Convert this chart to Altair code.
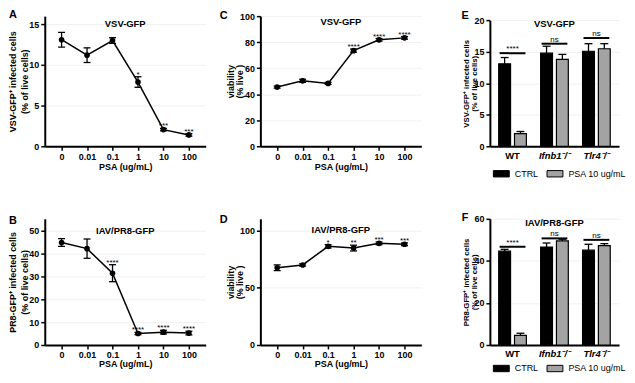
import altair as alt
import pandas as pd

FONT = "Liberation Sans"

# ---------------- data ----------------
doses = ["0", "0.01", "0.1", "1", "10", "100"]

a_mean = [13.1, 11.2, 13.0, 7.9, 2.05, 1.4]
a_err = [0.9, 0.9, 0.35, 0.65, 0.15, 0.15]
a_sig = ["", "", "", "*", "***", "***"]

b_mean = [44.7, 42.0, 31.3, 5.0, 5.6, 5.2]
b_err = [1.7, 4.2, 3.7, 0.5, 0.8, 0.8]
b_sig = ["", "", "****", "****", "****", "****"]

c_mean = [45.5, 50.3, 48.3, 73.5, 81.8, 83.3]
c_err = [0.8, 1.2, 0.8, 1.2, 1.0, 1.0]
c_sig = ["", "", "", "****", "****", "****"]

d_mean = [67.3, 69.8, 86.0, 84.5, 88.6, 87.8]
d_err = [2.5, 1.0, 1.5, 2.5, 1.2, 1.2]
d_sig = ["", "", "*", "**", "***", "***"]

groups = ["WT", "Ifnb1\u207b/\u207b", "Tlr4\u207b/\u207b"]
treatments = ["CTRL", "PSA 10 ug/mL"]

e_ctrl = [13.1, 14.8, 15.1]
e_ctrl_err = [1.0, 1.1, 1.2]
e_psa = [2.0, 13.8, 15.5]
e_psa_err = [0.35, 0.8, 0.8]
e_bracket = [14.8, 16.3, 17.2]
e_sig = ["****", "ns", "ns"]

f_ctrl = [44.6, 46.6, 45.1]
f_ctrl_err = [0.9, 1.9, 2.8]
f_psa = [4.6, 49.5, 47.3]
f_psa_err = [1.0, 0.8, 0.9]
f_bracket = [46.7, 50.7, 50.0]
f_sig = ["****", "ns", "ns"]


def label_layer(text, x, y, size, weight="bold"):
    return alt.Chart(pd.DataFrame({"t": [text]})).mark_text(
        font=FONT, fontSize=size, fontWeight=weight, color="black"
    ).encode(x=alt.value(x), y=alt.value(y), text="t:N")


def line_panel(mean, err, sig, domain, ticks, ytitle, title, letter,
               width, height, title_y, letter_xy, title_pad, title_lh, xt_pad):
    df = pd.DataFrame({
        "dose": doses,
        "mean": mean,
        "lo": [m - e for m, e in zip(mean, err)],
        "hi": [m + e for m, e in zip(mean, err)],
        "sig": sig,
    })
    xenc = alt.X("dose:O", sort=doses,
                 scale=alt.Scale(type="point", padding=0.66),
                 axis=alt.Axis(title="PSA (ug/mL)", labelAngle=0,
                               labelPadding=2, titlePadding=xt_pad))
    yscale = alt.Scale(domain=domain, nice=False, zero=False)
    yaxis = alt.Axis(values=ticks, title=ytitle, grid=True,
                     gridColor="#f1f1f1", titlePadding=title_pad,
                     titleLineHeight=title_lh)

    def Y(f):
        return alt.Y(f"{f}:Q", scale=yscale, axis=yaxis)

    base = alt.Chart(df)
    line = base.mark_line(color="black", strokeWidth=1.5).encode(x=xenc, y=Y("mean"))
    ebar = base.mark_rule(color="black", strokeWidth=1.3).encode(x=xenc, y=Y("lo"), y2="hi:Q")
    cap_hi = base.mark_tick(color="black", orient="horizontal", size=7,
                            thickness=1.3, opacity=1).encode(x=xenc, y=Y("hi"))
    cap_lo = base.mark_tick(color="black", orient="horizontal", size=7,
                            thickness=1.3, opacity=1).encode(x=xenc, y=Y("lo"))
    pts = base.mark_circle(color="black", size=32, opacity=1).encode(x=xenc, y=Y("mean"))
    stars = base.mark_text(font=FONT, fontSize=8, baseline="alphabetic", dy=0,
                           color="black").encode(x=xenc, y=Y("hi"), text="sig:N")
    ann = label_layer(title, width / 2, title_y, 9.5)
    let = label_layer(letter, letter_xy[0], letter_xy[1], 11)
    return alt.layer(line, ebar, cap_hi, cap_lo, pts, stars, ann, let).properties(
        width=width, height=height)


def bar_panel(ctrl, ctrl_err, psa, psa_err, brk, sig, domain, ticks, yrange,
              ytitle, title, letter, width, height, title_y, letter_xy, legend_y):
    vals = ctrl + psa
    errs = ctrl_err + psa_err
    df = pd.DataFrame({
        "group": groups * 2,
        "treat": [treatments[0]] * 3 + [treatments[1]] * 3,
        "val": vals,
        "top": [v + e for v, e in zip(vals, errs)],
    })
    sdf = pd.DataFrame({"group": groups, "brk": brk, "sig": sig})
    style_cond = {"condition": {"test": "datum.value === 'WT'", "value": "normal"},
                  "value": "italic"}
    xenc = alt.X("group:N", sort=groups,
                 scale=alt.Scale(paddingInner=0.34, paddingOuter=0.21),
                 axis=alt.Axis(title=None, ticks=False, labelAngle=0,
                               labelFontSize=9.5, labelPadding=4,
                               labelFontStyle=style_cond))
    xoff = alt.XOffset("treat:N", sort=treatments,
                       scale=alt.Scale(paddingInner=0.25))
    if yrange is not None:
        sc = alt.Scale(domain=domain, nice=False, zero=False, range=yrange)
    else:
        sc = alt.Scale(domain=domain, nice=False, zero=False)
    yaxis = alt.Axis(values=ticks, title=ytitle, grid=True,
                     gridColor="#f1f1f1", titlePadding=-5, titleFontSize=7.8,
                     titleLineHeight=8.5)

    def Y(f):
        return alt.Y(f"{f}:Q", scale=sc, axis=yaxis)

    color = alt.Color("treat:N", sort=treatments,
                      scale=alt.Scale(domain=treatments, range=["black", "#a3a3a3"]),
                      legend=alt.Legend(title=None, orient="none", legendX=3,
                                        legendY=legend_y, direction="horizontal",
                                        symbolType="M-1,-0.4H1V0.4H-1Z",
                                        symbolSize=256, symbolStrokeColor="black",
                                        symbolStrokeWidth=1, symbolOpacity=1,
                                        labelFont=FONT, labelFontSize=9,
                                        labelFontWeight="normal", labelColor="black",
                                        labelOffset=5, columnPadding=6, padding=0))
    base = alt.Chart(df)
    bars = base.mark_bar(stroke="black", strokeWidth=1.2, opacity=1).encode(
        x=xenc, xOffset=xoff, y=Y("val"), color=color)
    ebar = base.mark_rule(color="black", strokeWidth=1.3).encode(
        x=xenc, xOffset=xoff, y=Y("val"), y2="top:Q")
    cap = base.mark_tick(color="black", orient="horizontal", size=8,
                         thickness=1.3, opacity=1).encode(x=xenc, xOffset=xoff, y=Y("top"))
    sb = alt.Chart(sdf)
    bline = sb.mark_tick(color="black", orient="horizontal", size=26,
                         thickness=2, opacity=1).encode(x=xenc, y=Y("brk"))
    stars = sb.mark_text(font=FONT, fontSize=8, baseline="alphabetic", dy=-2,
                         color="black").encode(x=xenc, y=Y("brk"), text="sig:N")
    ann = label_layer(title, width / 2, title_y, 9.5)
    let = label_layer(letter, letter_xy[0], letter_xy[1], 11)
    return alt.layer(bars, ebar, cap, bline, stars, ann, let).properties(
        width=width, height=height)


def spacer(w, h):
    return alt.Chart(pd.DataFrame({"s": [0]})).mark_point(opacity=0).encode(
        x=alt.value(0), y=alt.value(0)).properties(width=w, height=h)


H1, H2 = 131, 127
W1, W2, W3 = 162, 162, 130
G1, G2 = 55, 69
ROW_GAP = 73

A = line_panel(a_mean, a_err, a_sig, [0, 16], [0, 5, 10, 15],
               ["VSV-GFP\u207a infected cells", "(% of live cells)"],
               "VSV-GFP", "A", W1, H1, 8, (-32, -1), -1, 12, 1)
B = line_panel(b_mean, b_err, b_sig, [0, 55], [0, 10, 20, 30, 40, 50],
               ["PR8-GFP\u207a infected cells", "(% of live cells)"],
               "IAV/PR8-GFP", "B", W1, H2, 12, (-32, 2), -1, 12, 0)
C = line_panel(c_mean, c_err, c_sig, [0, 100], [0, 20, 40, 60, 80, 100],
               ["viability", "(% live )"],
               "VSV-GFP", "C", W2, H1, 6, (-37, 0), -5, 9.5, 1)
D = line_panel(d_mean, d_err, d_sig, [0, 110], [0, 50, 100],
               ["viability", "(% live )"],
               "IAV/PR8-GFP", "D", W2, H2, 11, (-37, 1), -5, 9.5, 0)
E = bar_panel(e_ctrl, e_ctrl_err, e_psa, e_psa_err, e_bracket, e_sig,
              [0, 20], [0, 5, 10, 15, 20], [H1, 4.3],
              ["VSV-GFP\u207a infected cells", "(% of live cells)"],
              "VSV-GFP", "E", W3, H1, 8.3, (-25, 0), 150)
F = bar_panel(f_ctrl, f_ctrl_err, f_psa, f_psa_err, f_bracket, f_sig,
              [0, 60], [0, 20, 40, 60], None,
              ["PR8-GFP\u207a infected cells", "(% of live cells)"],
              "IAV/PR8-GFP", "F", W3, H2, 4.3, (-25, -1), 142)

chart = alt.concat(
    A, spacer(G1, H1), C, spacer(G2, H1), E,
    B, spacer(G1, H2), D, spacer(G2, H2), F,
    columns=5, spacing={"row": ROW_GAP, "column": 0}, bounds="flush"
).resolve_scale(color="independent").properties(
    padding=0
).configure_view(stroke=None).configure_axis(
    domainColor="black", domainWidth=2, tickColor="black", tickWidth=1.5,
    tickSize=4, labelFont=FONT, labelFontSize=9, labelFontWeight="bold",
    labelColor="black", titleFont=FONT, titleFontSize=9, titleFontWeight="bold",
    titleColor="black", titleLineHeight=11
)

chart.save("out.html", embed_options={"renderer": "svg", "actions": False})
